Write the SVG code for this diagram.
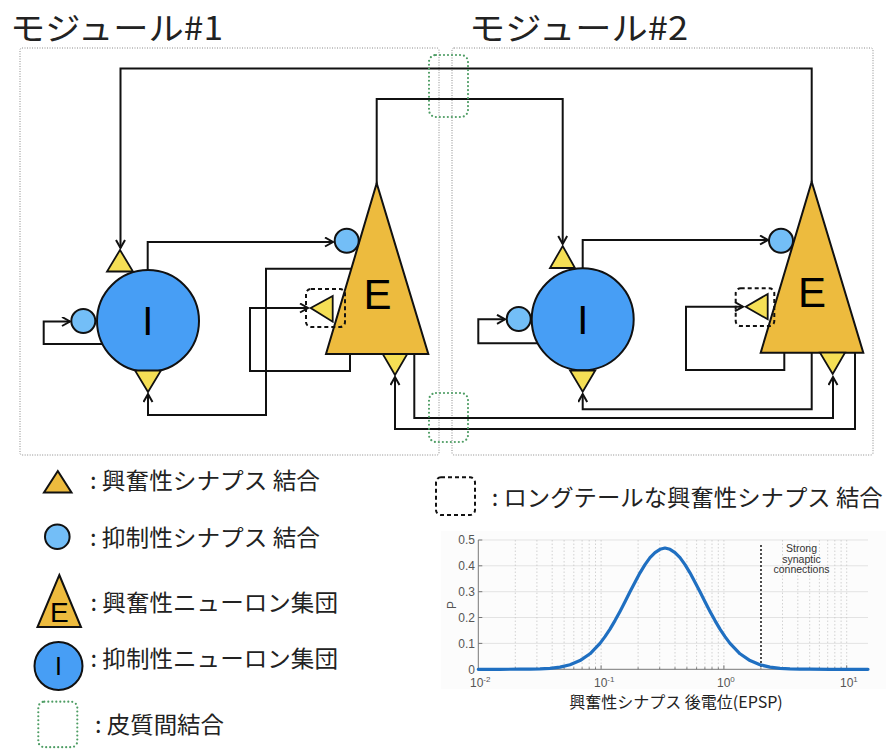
<svg xmlns="http://www.w3.org/2000/svg" width="886" height="749" viewBox="0 0 886 749">
<style>
.jp{font-family:"Noto Sans CJK JP","Liberation Sans",sans-serif;fill:#222}
.lat{font-family:"Liberation Sans",Arial,sans-serif}
.mod{fill:none;stroke:#8a8a8a;stroke-width:1;stroke-dasharray:1 1.5}
.ln{fill:none;stroke:#111;stroke-width:2}
.arr{marker-end:url(#ah)}
.I{fill:#479EF5;stroke:#111;stroke-width:2}
.E{fill:#EDBB3E;stroke:#111;stroke-width:2}
.es{fill:#F5DF55;stroke:#111;stroke-width:1.8}
.is{fill:#73BEF7;stroke:#111;stroke-width:2}
.lt{fill:none;stroke:#111;stroke-width:2;stroke-dasharray:4 3}
.gr{fill:none;stroke:#4E9D64;stroke-width:2.2;stroke-dasharray:0 4;stroke-linecap:round}
.big{font-family:"Liberation Sans",Arial,sans-serif;fill:#000;text-anchor:middle}
.hg{stroke:#e3e3e3;stroke-width:1}
.vg{stroke:#c8c8c8;stroke-width:0.8;stroke-dasharray:1.5 2}
.tk{font-family:"Liberation Sans",Arial,sans-serif;font-size:12px;fill:#555}
</style>
<defs>
<marker id="ah" markerUnits="userSpaceOnUse" markerWidth="12" markerHeight="12" refX="9" refY="5" orient="auto">
<path d="M1,0.5 L9,5 L1,9.5" fill="none" stroke="#111" stroke-width="2"/>
</marker>
</defs>
<rect width="886" height="749" fill="#fff"/>

<g id="titles">
<text class="jp" x="10" y="40" font-size="32" fill="#111" textLength="213" lengthAdjust="spacingAndGlyphs">モジュール#1</text>
<text class="jp" x="469" y="40" font-size="32" fill="#111" textLength="219" lengthAdjust="spacingAndGlyphs">モジュール#2</text>
</g>

<g id="module1-box"><rect class="mod" x="20" y="48" width="419" height="407" rx="2"/></g>
<g id="module2-box"><rect class="mod" x="452" y="48" width="421" height="407" rx="2"/></g>

<g id="connectors">
<path class="ln arr" d="M811.7,182 V68.5 H120.5 V248"/>
<path class="ln arr" d="M376.7,184 V99 H562.7 V244"/>
<path class="ln arr" d="M147.7,270 V242 H333"/>
<path class="ln arr" d="M351,268.7 H266 V415 H148 V394"/>
<path class="ln arr" d="M103,344 H43.7 V321.5 H70"/>
<path class="ln arr" d="M350,354 V371 H250 V308 H308"/>
<path class="ln arr" d="M414.3,354 V418 H833 V377"/>
<path class="ln arr" d="M855,353 V429 H395 V377"/>
<path class="ln arr" d="M582.7,268 V240 H768"/>
<path class="ln arr" d="M811.7,353 V409.3 H582.7 V394"/>
<path class="ln arr" d="M537.7,343.3 H478.3 V319.3 H505"/>
<path class="ln arr" d="M784.3,352.7 V370 H686 V306.7 H743"/>
</g>

<g id="I1">
<circle class="I" cx="148" cy="321" r="51"/>
<text class="big" x="147.7" y="335" font-size="40">I</text>
</g>
<g id="I1-syn-top"><polygon class="es" points="107,271.5 133,271.5 120,250"/></g>
<g id="I1-syn-bottom"><polygon class="es" points="135,370.5 161,370.5 148,392"/></g>
<g id="I1-syn-inh"><circle class="is" cx="83.3" cy="321" r="12"/></g>

<g id="E1">
<polygon class="E" points="376.7,183.3 428.3,354 326,354"/>
<text class="big" x="377.6" y="309" font-size="42">E</text>
</g>
<g id="E1-syn-inh"><circle class="is" cx="346.7" cy="240.7" r="12"/></g>
<g id="E1-syn-longtail">
<rect class="lt" x="306" y="289" width="39" height="38" rx="5"/>
<polygon class="es" points="310.7,308 332.7,296 332.7,321.7"/>
</g>
<g id="E1-syn-bottom"><polygon class="es" points="382.7,354 407.3,354 395,375"/></g>

<g id="I2">
<circle class="I" cx="582.7" cy="319.3" r="51"/>
<text class="big" x="582.7" y="333.5" font-size="40">I</text>
</g>
<g id="I2-syn-top"><polygon class="es" points="550,268 575,268 562.7,246"/></g>
<g id="I2-syn-bottom"><polygon class="es" points="570,370.5 595.3,370.5 582.7,391.7"/></g>
<g id="I2-syn-inh"><circle class="is" cx="518.7" cy="319" r="12"/></g>

<g id="E2">
<polygon class="E" points="811.7,181.7 863.3,352.7 760.7,352.7"/>
<text class="big" x="812" y="307" font-size="42">E</text>
</g>
<g id="E2-syn-inh"><circle class="is" cx="781" cy="240.7" r="12"/></g>
<g id="E2-syn-longtail">
<rect class="lt" x="735.7" y="288.3" width="38.6" height="37.7" rx="5"/>
<polygon class="es" points="745.7,306.7 767.7,294 767.7,319.3"/>
</g>
<g id="E2-syn-bottom"><polygon class="es" points="820,352.7 845,352.7 832.7,374"/></g>

<g id="cortical-top"><rect class="gr" x="429" y="55" width="39" height="62" rx="7"/></g>
<g id="cortical-bottom"><rect class="gr" x="429" y="393" width="39" height="49" rx="7"/></g>

<g id="legend">
<polygon class="E" points="57.8,471 71.5,492.5 44,492.5" stroke-width="1.8"/>
<text class="jp" x="90" y="489" font-size="23" textLength="230" lengthAdjust="spacingAndGlyphs">: 興奮性シナプス 結合</text>
<circle class="is" cx="57.3" cy="536.7" r="12.3"/>
<text class="jp" x="90" y="546" font-size="23" textLength="230" lengthAdjust="spacingAndGlyphs">: 抑制性シナプス 結合</text>
<polygon class="E" points="59.3,575 81,627 37.5,627"/>
<text class="big" x="59.3" y="621.5" font-size="28">E</text>
<text class="jp" x="90.5" y="611" font-size="23" textLength="247.5" lengthAdjust="spacingAndGlyphs">: 興奮性ニューロン集団</text>
<circle class="I" cx="58.5" cy="666" r="24"/>
<text class="big" x="58.5" y="675" font-size="25">I</text>
<text class="jp" x="90.5" y="667" font-size="23" textLength="247.5" lengthAdjust="spacingAndGlyphs">: 抑制性ニューロン集団</text>
<rect class="gr" x="38.3" y="701.7" width="39" height="45.5" rx="6"/>
<text class="jp" x="95" y="733" font-size="23" textLength="129" lengthAdjust="spacingAndGlyphs">: 皮質間結合</text>
<rect class="lt" x="436" y="477.3" width="39" height="37.7" rx="5"/>
<text class="jp" x="491.7" y="506" font-size="23" textLength="391" lengthAdjust="spacingAndGlyphs">: ロングテールな興奮性シナプス 結合</text>
</g>

<g id="chart">
<rect x="441" y="531" width="445" height="158" fill="#fcfcfc"/>
<g id="hgrid">
<line class="hg" x1="478.3" y1="540" x2="868" y2="540"/>
<line class="hg" x1="478.3" y1="565.8" x2="868" y2="565.8"/>
<line class="hg" x1="478.3" y1="591.7" x2="868" y2="591.7"/>
<line class="hg" x1="478.3" y1="617.5" x2="868" y2="617.5"/>
<line class="hg" x1="478.3" y1="643.4" x2="868" y2="643.4"/>
</g>
<g id="vgrid">
<line class="vg" x1="515.3" y1="540" x2="515.3" y2="669"/>
<line class="vg" x1="536.9" y1="540" x2="536.9" y2="669"/>
<line class="vg" x1="552.2" y1="540" x2="552.2" y2="669"/>
<line class="vg" x1="564.1" y1="540" x2="564.1" y2="669"/>
<line class="vg" x1="573.8" y1="540" x2="573.8" y2="669"/>
<line class="vg" x1="582.1" y1="540" x2="582.1" y2="669"/>
<line class="vg" x1="589.2" y1="540" x2="589.2" y2="669"/>
<line class="vg" x1="595.5" y1="540" x2="595.5" y2="669"/>
<line class="vg" x1="601.1" y1="540" x2="601.1" y2="669"/>
<line class="vg" x1="638.1" y1="540" x2="638.1" y2="669"/>
<line class="vg" x1="659.7" y1="540" x2="659.7" y2="669"/>
<line class="vg" x1="675" y1="540" x2="675" y2="669"/>
<line class="vg" x1="686.9" y1="540" x2="686.9" y2="669"/>
<line class="vg" x1="696.6" y1="540" x2="696.6" y2="669"/>
<line class="vg" x1="704.9" y1="540" x2="704.9" y2="669"/>
<line class="vg" x1="712" y1="540" x2="712" y2="669"/>
<line class="vg" x1="718.3" y1="540" x2="718.3" y2="669"/>
<line class="vg" x1="723.9" y1="540" x2="723.9" y2="669"/>
<line class="vg" x1="782.5" y1="540" x2="782.5" y2="669"/>
<line class="vg" x1="797.8" y1="540" x2="797.8" y2="669"/>
<line class="vg" x1="809.7" y1="540" x2="809.7" y2="669"/>
<line class="vg" x1="819.4" y1="540" x2="819.4" y2="669"/>
<line class="vg" x1="827.7" y1="540" x2="827.7" y2="669"/>
<line class="vg" x1="834.8" y1="540" x2="834.8" y2="669"/>
<line class="vg" x1="841.1" y1="540" x2="841.1" y2="669"/>
<line class="vg" x1="846.7" y1="540" x2="846.7" y2="669"/>
</g>
<g id="axes" stroke="#777" stroke-width="1">
<line x1="478.3" y1="540" x2="478.3" y2="669.3"/>
<line x1="478.3" y1="669.3" x2="868" y2="669.3"/>
<path d="M478.3,540 h4 M478.3,565.8 h4 M478.3,591.7 h4 M478.3,617.5 h4 M478.3,643.4 h4 M601.1,669.3 v-4 M723.9,669.3 v-4 M846.7,669.3 v-4 M515.3,669.3 v-2 M536.9,669.3 v-2 M552.2,669.3 v-2 M564.1,669.3 v-2 M573.8,669.3 v-2 M582.1,669.3 v-2 M589.2,669.3 v-2 M595.5,669.3 v-2 M638.1,669.3 v-2 M659.7,669.3 v-2 M675,669.3 v-2 M686.9,669.3 v-2 M696.6,669.3 v-2 M704.9,669.3 v-2 M712,669.3 v-2 M718.3,669.3 v-2 M760.9,669.3 v-2 M782.5,669.3 v-2 M797.8,669.3 v-2 M809.7,669.3 v-2 M819.4,669.3 v-2 M827.7,669.3 v-2 M834.8,669.3 v-2 M841.1,669.3 v-2"/>
</g>
<g id="yticks" text-anchor="end">
<text class="tk" x="475" y="544">0.5</text>
<text class="tk" x="475" y="570">0.4</text>
<text class="tk" x="475" y="596">0.3</text>
<text class="tk" x="475" y="621.5">0.2</text>
<text class="tk" x="475" y="647.5">0.1</text>
<text class="tk" x="475" y="673.5">0</text>
</g>
<g id="xticks">
<text class="tk" x="470" y="687">10<tspan dy="-5" font-size="8">-2</tspan></text>
<text class="tk" x="594" y="687">10<tspan dy="-5" font-size="8">-1</tspan></text>
<text class="tk" x="717" y="687">10<tspan dy="-5" font-size="8">0</tspan></text>
<text class="tk" x="840" y="687">10<tspan dy="-5" font-size="8">1</tspan></text>
</g>
<text class="tk" transform="translate(456,605) rotate(-90)" text-anchor="middle">P</text>
<line x1="761" y1="546" x2="761" y2="669" stroke="#111" stroke-width="2" stroke-dasharray="0 4" stroke-linecap="round"/>
<g class="lat" font-size="10.5" fill="#333" text-anchor="middle">
<text x="801.5" y="552">Strong</text>
<text x="801.5" y="562.5">synaptic</text>
<text x="801.5" y="573">connections</text>
</g>
<polyline fill="none" stroke="#1F6FC1" stroke-width="3.2" stroke-linejoin="round" stroke-linecap="round" points="478.3,669.3 500,669.3 520,669.2 530,669.1 540,668.9 550,668.3 560,667.1 570,664.8 580,660.6 590,653.8 600,643.4 605,636.6 610,629.1 615,620.6 620,611.4 625,601.8 630,591.8 635,582.2 640,572.8 645,564.6 650,557.6 655,552.6 660,549.3 665,548 670,549.3 675,552.6 680,557.6 685,564.6 690,572.8 695,582.2 700,591.8 705,601.8 710,611.4 715,620.6 720,629.1 725,636.6 730,643.4 740,653.8 750,660.6 760,664.8 770,667.1 780,668.3 790,668.9 800,669.1 810,669.2 830,669.3 868,669.3"/>
<text class="jp" x="676" y="708" font-size="16" text-anchor="middle" fill="#333">興奮性シナプス 後電位(EPSP)</text>
</g>
</svg>
